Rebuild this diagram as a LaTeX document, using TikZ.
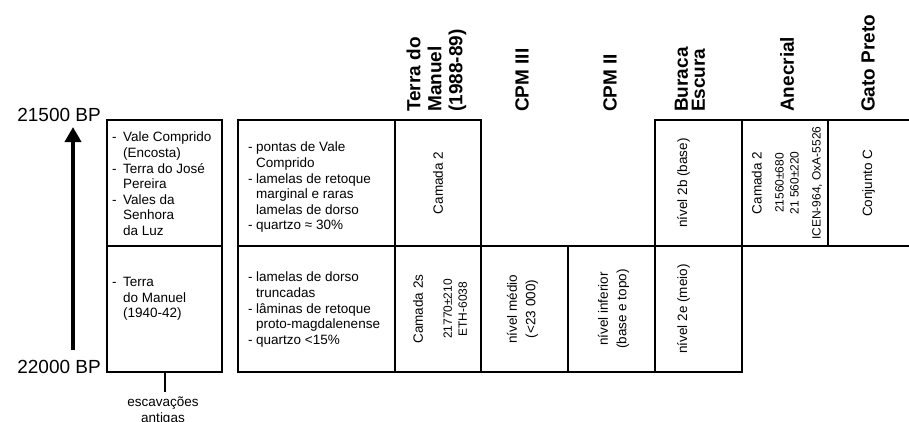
\documentclass[tikz,border=0pt]{standalone}
\usepackage{fontspec}
\setmainfont{Liberation Sans}
\usetikzlibrary{positioning, arrows.meta}
\tikzset{x=1pt, y=-1pt,
  cell/.style={draw, line width=2pt, anchor=north west, inner sep=0pt, outer sep=0pt, minimum height=126pt},
  head/.style={rotate=90, anchor=west, align=left, inner sep=0pt, font=\fontsize{19}{21}\selectfont\bfseries},
  vtext/.style={rotate=90, align=center, inner sep=0pt, font=\fontsize{13.5}{15.5}\selectfont},
  small/.style={font=\fontsize{12}{15}\selectfont},
  list/.style={anchor=north west, align=left, inner sep=0pt, font=\fontsize{13.5}{15.6}\selectfont},
  bp/.style={anchor=base east, inner sep=0pt, font=\fontsize{19}{21}\selectfont}
}
\newcommand{\itm}[1][11pt]{\makebox[#1][l]{-}}
\newcommand{\indt}[1][11pt]{\hspace*{#1}}

\begin{document}
\begin{tikzpicture}
    \useasboundingbox (0,0) rectangle (909,421);
    % time axis
    \node[bp] (bptop) at (101,121) {21500 BP};
    \node[bp] (bpbot) at (101,373) {22000 BP};
    \coordinate (ttop) at (73,127);
    \coordinate (tbot) at (73,350);
    \draw[line width=4pt, -{Triangle[width=16pt,length=15pt]}] (tbot) -- (ttop);

    % old excavations and industry
    \node[cell, minimum width=115pt] (oldtop) at (107,120) {};
    \node[cell, minimum width=115pt, below=0pt of oldtop] (oldbot) {};
    \node[cell, minimum width=157pt] (indtop) at (238,120) {};
    \node[cell, minimum width=157pt, below=0pt of indtop] (indbot) {};

    % sites
    \node[cell, minimum width=86pt, right=0pt of indtop] (terratop) {};
    \node[cell, minimum width=86pt, below=0pt of terratop] (terrabot) {};
    \node[cell, minimum width=87pt, right=0pt of terrabot] (cpm3bot) {};
    \node[cell, minimum width=87pt, right=0pt of cpm3bot] (cpm2bot) {};
    \node[cell, minimum width=87pt, right=0pt of cpm2bot] (burbot) {};
    \node[cell, minimum width=87pt, above=0pt of burbot] (burtop) {};
    \node[cell, minimum width=86pt, right=0pt of burtop] (anectop) {};
    \node[cell, draw=none, minimum width=81pt, right=0pt of anectop] (gatotop) {};
    \draw[line width=2pt] (gatotop.north west) -- (gatotop.north east)
        (gatotop.south west) -- (gatotop.south east);

    % headings
    \node[head] (hterra) at (436.5,112) {Terra do\\Manuel\\(1988-89)};
    \node[head] (hcpm3) at (522,112) {CPM III};
    \node[head] (hcpm2) at (610,112) {CPM II};
    \node[head, font=\fontsize{19}{17}\selectfont\bfseries] (hburaca) at (690,112) {Buraca\\Escura};
    \node[head] (hanec) at (787,112) {Anecrial};
    \node[head] (hgato) at (868,112) {Gato Preto};

    % lists
    \node[list] (oldtoptxt) at ([xshift=5pt, yshift=-12pt]oldtop.north west)
        {\itm Vale Comprido\\\indt(Encosta)\\\itm Terra do José\\\indt Pereira\\\itm Vales da\\\indt Senhora\\\indt da Luz};
    \node[list] (oldbottxt) at ([xshift=5pt, yshift=-31pt]oldbot.north west)
        {\itm Terra\\\indt do Manuel\\\indt(1940-42)};
    \node[list] (indtoptxt) at ([xshift=10pt, yshift=-22pt]indtop.north west)
        {\itm[8pt]pontas de Vale\\\indt[8pt]Comprido\\\itm[8pt]lamelas de retoque\\\indt[8pt]marginal e raras\\\indt[8pt]lamelas de dorso\\\itm[8pt]quartzo ≈ 30\%};
    \node[list] (indbottxt) at ([xshift=10pt, yshift=-26pt]indbot.north west)
        {\itm[8pt]lamelas de dorso\\\indt[8pt]truncadas\\\itm[8pt]lâminas de retoque\\\indt[8pt]proto-magdalenense\\\itm[8pt]quartzo <15\%};

    % levels
    \node[vtext] (terra2) at (terratop.center) {Camada 2};
    \node[vtext, small] (terra2s) at ([xshift=2pt]terrabot.center)
        {{\fontsize{13.5}{15}\selectfont Camada 2s}\\[14pt]21770±210\\ETH-6038};
    \node[vtext] (cpm3txt) at ([xshift=-2pt]cpm3bot.center) {nível médio\\[3pt](<23 000)};
    \node[vtext] (cpm2txt) at ([xshift=2pt]cpm2bot.center) {nível inferior\\[3pt](base e topo)};
    \node[vtext] (burtoptxt) at ([xshift=-15pt]burtop.center) {nível 2b (base)};
    \node[vtext] (burbottxt) at ([xshift=-15pt]burbot.center) {nível 2e (meio)};
    \node[vtext, small] (anectxt) at ([xshift=2pt]anectop.center)
        {{\fontsize{13.5}{15}\selectfont Camada 2}\\[7pt]21560±680\\21 560±220\\[7pt]ICEN-964, OxA-5526};
    \node[vtext] (gatotxt) at (gatotop.center) {Conjunto C};

    % old excavations label
    \node[anchor=north, align=center, inner sep=0pt, font=\fontsize{13.5}{16}\selectfont] (escav) at (163,397) {escavações\\antigas};
    \coordinate (stub) at (oldbot.south |- 0,392);
    \draw[line width=2pt] (oldbot.south) -- (stub);
\end{tikzpicture}
\end{document}
